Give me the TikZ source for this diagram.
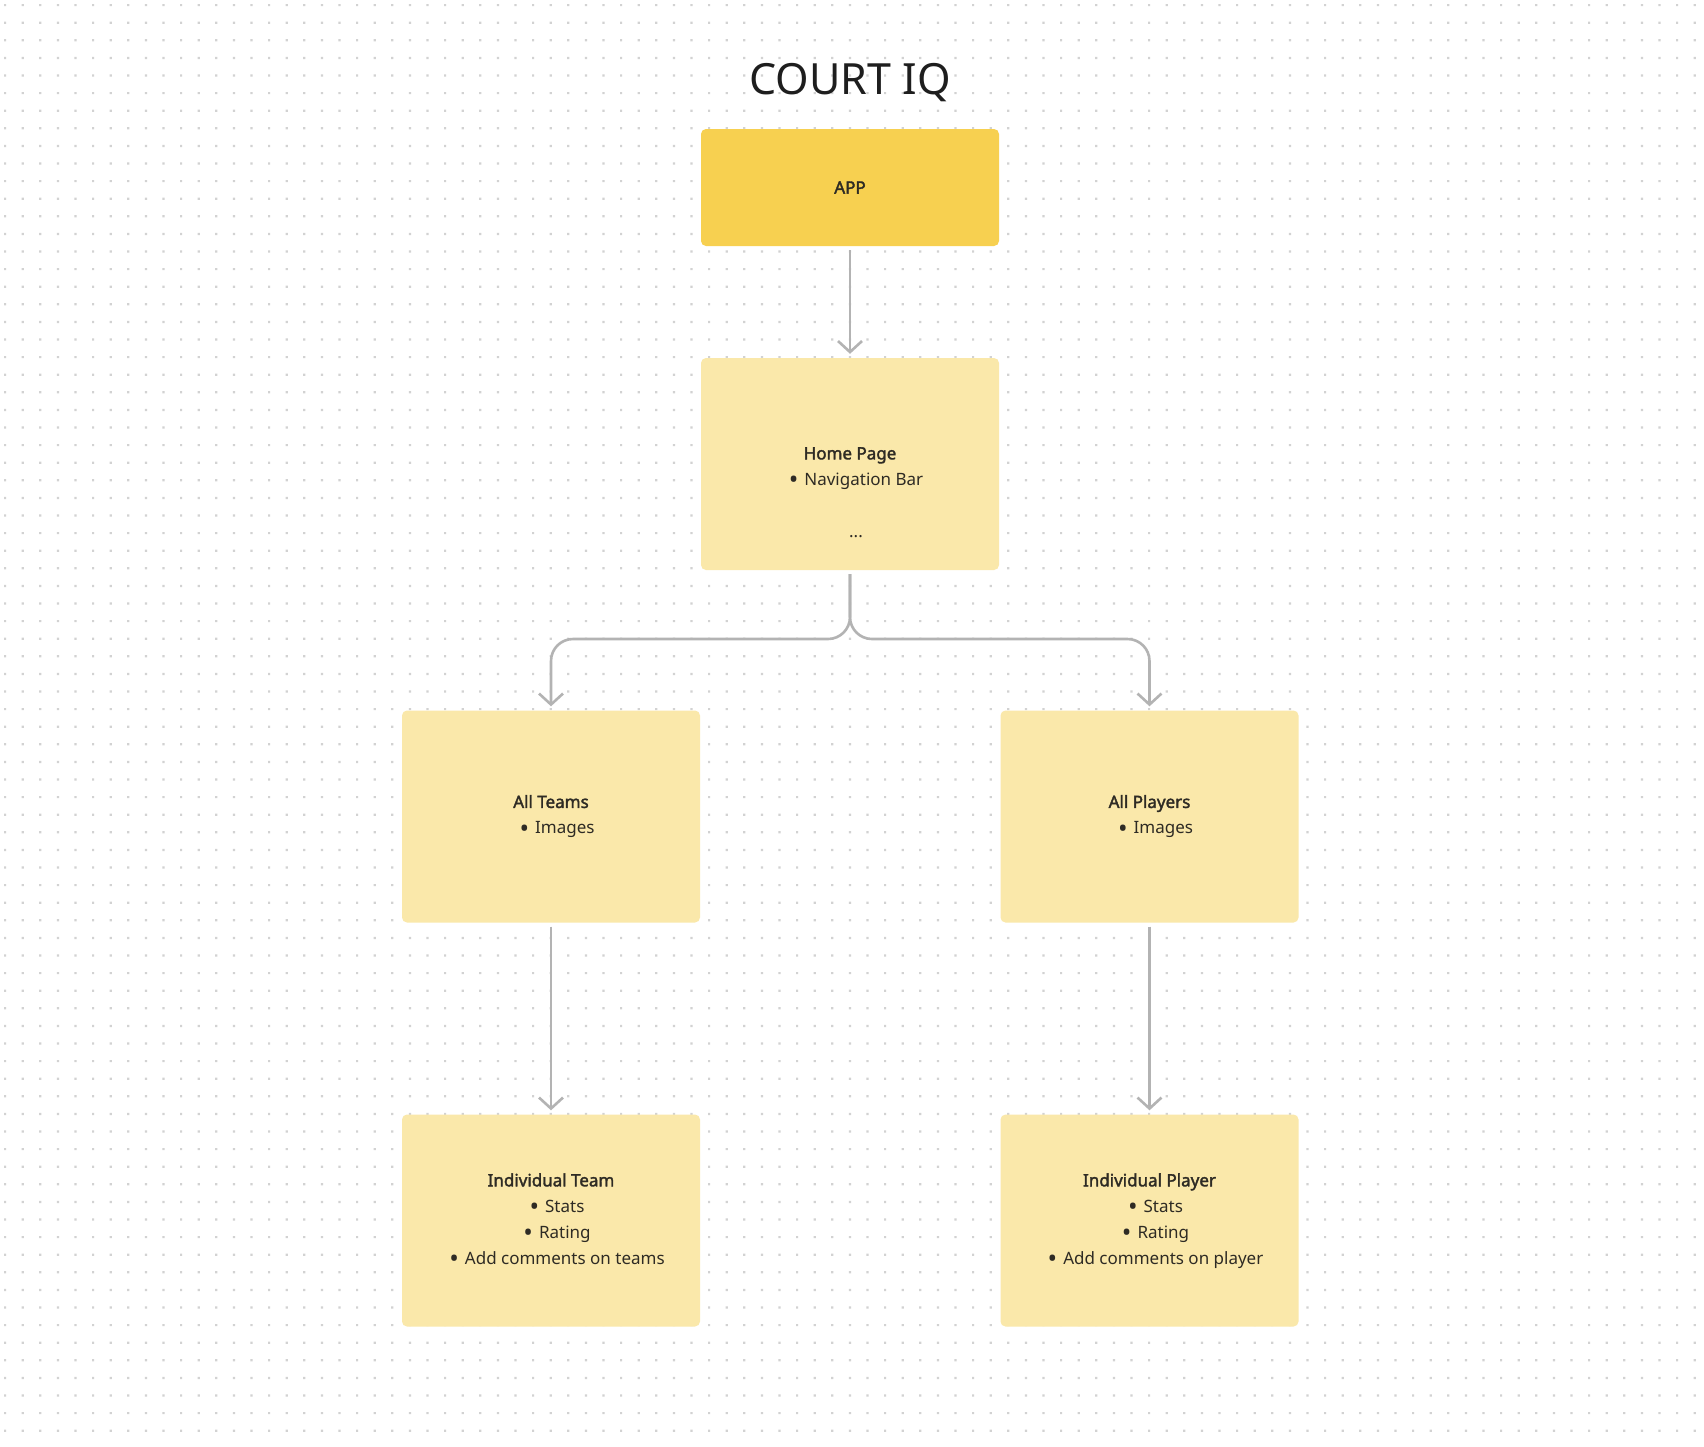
\documentclass[tikz,border=0pt]{standalone}
\usepackage{fontspec}
\setmainfont{Noto Sans}[BoldFont={Noto Sans}, BoldFeatures={FakeBold=2}]
\usetikzlibrary{arrows.meta,calc}
\definecolor{dotc}{HTML}{D2D2D2}
\definecolor{appc}{HTML}{F7D050}
\definecolor{boxc}{HTML}{FAE8AA}
\definecolor{linec}{HTML}{B3B3B3}
\definecolor{txtc}{HTML}{2E2B24}
\definecolor{titlec}{HTML}{1E1E1E}
\newcommand\bitem[1]{\hspace*{12pt}\raisebox{-3.3pt}{\scalebox{1.5}{\textbullet}}\hspace{6pt}#1}
\begin{document}
\begin{tikzpicture}[x=1pt,y=-1pt,
  card/.style={rectangle, rounded corners=5pt, fill=boxc, minimum width=298pt,
    minimum height=212pt, inner sep=0pt, align=center, text=txtc,
    font=\fontsize{17}{26}\selectfont},
  conn/.style={draw=linec, line width=2.6pt,
    -{Straight Barb[length=11pt,width=24pt,line width=2.6pt]}}]
\useasboundingbox (0,0) rectangle (1704,1446);
\fill[white] (0,0) rectangle (1704,1446);
\foreach \j in {0,...,81}{
  \fill[dotc] \foreach \i in {0,...,96}{(4+17.6*\i,4+17.6*\j) rectangle ++(2.2,2.2)};
}

\node[anchor=base, text=titlec, font=\fontsize{43}{50}\selectfont] (title) at (850,94) {COURT IQ};

\node[card, fill=appc, minimum height=117pt, font=\bfseries\fontsize{17}{26}\selectfont] (app) at (850,187.5) {APP};
\node[card] (home) at (850,464) {\mbox{}\\[43pt]\textbf{Home Page}\\ \bitem{Navigation Bar}\\[26pt] \hspace*{12pt}...};
\node[card] (teams) at (551,816.5) {\textbf{All Teams}\\ \bitem{Images}};
\node[card] (players) at (1149.5,816.5) {\textbf{All Players}\\ \bitem{Images}};
\node[card] (indteam) at (551,1220.5) {\textbf{Individual Team}\\ \bitem{Stats}\\ \bitem{Rating}\\ \bitem{Add comments on teams}};
\node[card] (indplayer) at (1149.5,1220.5) {\textbf{Individual Player}\\ \bitem{Stats}\\ \bitem{Rating}\\ \bitem{\raisebox{0pt}[\height][0pt]{Add comments on player}}};

\coordinate (split) at (850,639);
\draw[conn] ([yshift=-4pt]app.south) -- ([yshift=4pt]home.north);
\draw[conn, rounded corners=22pt] ([yshift=-4pt]home.south) -- (split) -| ([yshift=4pt]teams.north);
\draw[conn, rounded corners=22pt] ([yshift=-4pt]home.south) -- (split) -| ([yshift=4pt]players.north);
\draw[conn] ([yshift=-4pt]teams.south) -- ([yshift=4pt]indteam.north);
\draw[conn] ([yshift=-4pt]players.south) -- ([yshift=4pt]indplayer.north);
\end{tikzpicture}
\end{document}
